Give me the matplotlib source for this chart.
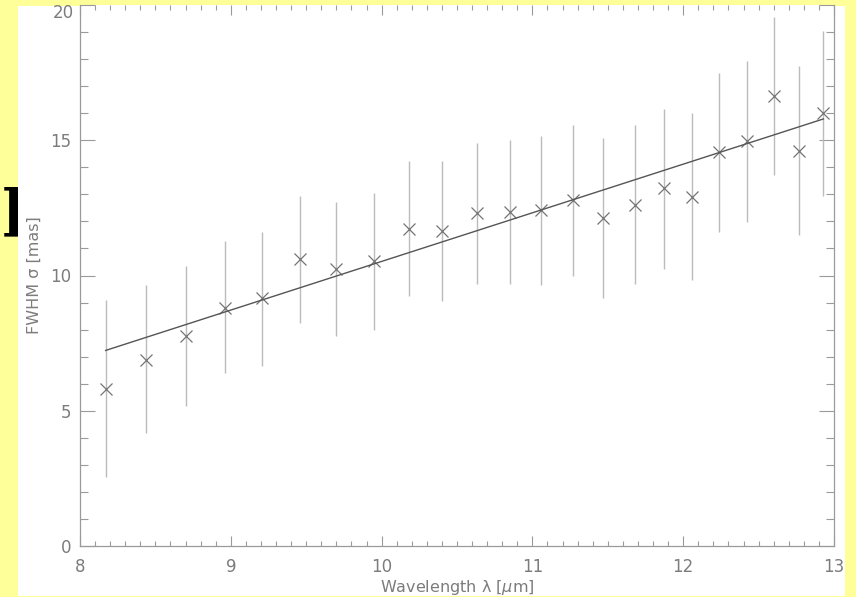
import numpy as np
import matplotlib
matplotlib.use("Agg")
import matplotlib.pyplot as plt
from matplotlib.patches import Rectangle
from matplotlib.ticker import MultipleLocator

# wavelength [um], FWHM [mas], error bar ends
wavelength = [8.17, 8.44, 8.70, 8.96, 9.21, 9.46, 9.70, 9.95, 10.18, 10.40,
              10.63, 10.85, 11.06, 11.27, 11.47, 11.68, 11.87, 12.06, 12.24,
              12.42, 12.60, 12.77, 12.93]
fwhm = [5.79, 6.89, 7.76, 8.79, 9.16, 10.62, 10.25, 10.52, 11.71, 11.63,
        12.30, 12.36, 12.42, 12.80, 12.13, 12.62, 13.22, 12.92, 14.55,
        14.96, 16.64, 14.61, 15.99]
err_low = [2.55, 4.16, 5.19, 6.39, 6.65, 8.24, 7.76, 7.97, 9.25, 9.04,
           9.69, 9.67, 9.64, 10.00, 9.18, 9.67, 10.25, 9.84, 11.60,
           11.99, 13.73, 11.48, 12.95]
err_high = [9.08, 9.66, 10.34, 11.27, 11.62, 12.95, 12.70, 13.05, 14.22,
            14.22, 14.88, 15.01, 15.14, 15.56, 15.08, 15.56, 16.17, 15.99,
            17.48, 17.93, 19.56, 17.75, 19.04]
ytick_vals = [0, 5, 10, 15, 20]

# linear fit
fit_slope = 1.798
fit_icpt = -7.46

W, H = 856, 597
fig = plt.figure(figsize=(W / 100, H / 100), dpi=100)
fig.patch.set_facecolor("#ffff99")

# white page area and the stray glyph on the left
fig.patches.append(Rectangle((18 / W, 1 - 596 / H), 827 / W, 590 / H,
                             transform=fig.transFigure, facecolor="white",
                             edgecolor="none", zorder=-1))
fig.text(2 / W, 1 - 186 / H, "l", fontsize=47, fontweight="bold",
         family="DejaVu Serif", color="black", ha="left", va="top",
         zorder=-2)

ax = fig.add_axes([80 / W, 1 - 546 / H, 754 / W, 541 / H])
ax.set_facecolor("white")

wl = np.array(wavelength)
y = np.array(fwhm)
yerr = [y - np.array(err_low), np.array(err_high) - y]
ax.errorbar(wl, y, yerr=yerr, fmt="none", ecolor="#bcbcbc", elinewidth=1.0,
            capsize=0)
ax.plot(wl, y, "x", color="#747474", markersize=9, markeredgewidth=0.9)

xfit = np.array([wl[0], wl[-1]])
ax.plot(xfit, fit_slope * xfit + fit_icpt, color="#555555", lw=1.0)

ax.set_xlim(8, 13)
ax.set_ylim(0, 20)
ax.xaxis.set_major_locator(MultipleLocator(1))
ax.xaxis.set_minor_locator(MultipleLocator(0.1))
ax.yaxis.set_minor_locator(MultipleLocator(1))
# top label is drawn separately, a bit below its tick so it stays on the page
ax.set_yticks(ytick_vals, [str(v) for v in ytick_vals[:-1]] + [""])

gray = "#9a9a9a"
for s in ax.spines.values():
    s.set_color(gray)
    s.set_linewidth(0.9)
ax.spines["top"].set_visible(False)

lbl = "#7c7c7c"
ax.tick_params(axis="x", which="major", direction="in", length=7, width=0.8,
               color=gray, top=True, pad=9, labelsize=12, labelcolor=lbl)
ax.tick_params(axis="x", which="minor", direction="in", length=3.5,
               width=0.8, color=gray, top=True)
ax.tick_params(axis="y", which="major", direction="in", length=11,
               width=0.8, color=gray, right=True, pad=6, labelsize=12,
               labelcolor=lbl)
ax.tick_params(axis="y", which="minor", direction="in", length=6, width=0.8,
               color=gray, right=True)

ax.annotate(str(ytick_vals[-1]), xy=(0, ytick_vals[-1]),
            xycoords=("axes fraction", "data"), xytext=(-4.5, -5.5),
            textcoords="offset points", ha="right", va="center",
            fontsize=12, color=lbl)

ax.set_xlabel("Wavelength λ [$\\mu$m]", fontsize=11.5, color=lbl,
              labelpad=1)
ax.set_ylabel("FWHM σ [mas]", fontsize=11.5, color=lbl, labelpad=6)

fig.savefig("out.png", dpi=100, facecolor=fig.get_facecolor())
